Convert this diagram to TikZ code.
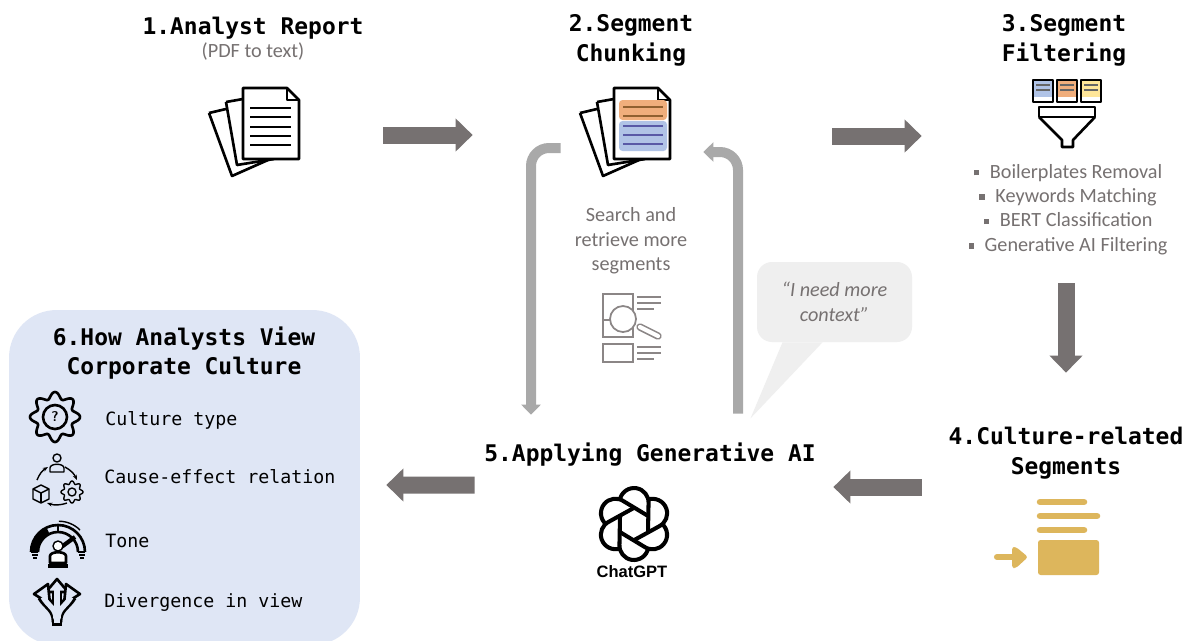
\documentclass[tikz,border=0pt]{standalone}
\usepackage{fontspec}
\setmainfont{Carlito}
\setmonofont{DejaVu Sans Mono}
\newfontfamily\logofont{Liberation Sans}
\usetikzlibrary{arrows.meta,calc}

\definecolor{arrowgray}{HTML}{767171}
\definecolor{loopgray}{HTML}{A9A9A9}
\definecolor{textgray}{HTML}{767171}
\definecolor{bubblegray}{HTML}{EFEFEF}
\definecolor{panelblue}{HTML}{DFE6F5}
\definecolor{chunkorange}{HTML}{F0AE7C}
\definecolor{chunkblue}{HTML}{B0C3E6}
\definecolor{cardyellow}{HTML}{FFE699}
\definecolor{segmentgold}{HTML}{DDB65C}

\newcommand{\bulletmark}{\rule[1.6pt]{3.2pt}{3.2pt}\hspace{6pt}}

\tikzset{
    iconbox/.style={minimum size=1.8cm, inner sep=0pt},
    steptitle/.style={align=center, inner sep=0pt, font=\ttfamily\bfseries\fontsize{13.05}{17}\selectfont},
    graytext/.style={align=center, inner sep=0pt, text=textgray, font=\fontsize{11.5}{13.9}\selectfont},
    itemtext/.style={anchor=west, inner sep=0pt, font=\ttfamily\fontsize{10.4}{13}\selectfont},
    bigarrow/.style={draw=arrowgray, line width=0.34cm, -{Triangle[width=0.64cm,length=0.34cm]}},
    looparrow/.style={draw=loopgray, line width=0.2cm, rounded corners=0.36cm, -{Triangle[width=0.38cm,length=0.2cm]}},
    iconline/.style={line width=1.5pt, line join=round},
    thinline/.style={line width=0.8pt, line join=round},
    pagestack/.pic={
        \draw[iconline] (-29,-28) -- (-12,-31);
        \draw[iconline] (-29,-28) -- (-18,35) -- (19,29);
        \draw[iconline] (-46,-17) -- (-29,-21);
        \draw[iconline] (-46,-17) -- (-23,46) -- (13,30);
        \filldraw[iconline, fill=white] (-12,-42) -- (32,-42) -- (44,-30) -- (44,29) -- (-12,29) -- cycle;
        \draw[iconline] (32,-42) -- (32,-30) -- (44,-30);
    },
    sizegear/.pic={
        \draw[pic actions] plot[domain=0:360, samples=145, smooth] (\x:{#1*(0.87+0.13*cos(8*\x))});
    },
}

\begin{document}
\begin{tikzpicture}[x=0.02cm, y=-0.02cm]
    \clip (0,0) rectangle (1195,640);
    \fill[white] (0,0) rectangle (1195,640);

    % icon anchors
    \node[iconbox] (report) at (255,130) {};
    \node[iconbox] (chunks) at (626,130) {};
    \node[iconbox] (filter) at (1066,113) {};
    \node[iconbox] (segments) at (1066,538) {};
    \node[iconbox] (genai) at (632,523) {};
    \node[fill=panelblue, rounded corners=0.95cm, minimum width=7.02cm, minimum height=6.7cm, inner sep=0pt] (panel) at (184.5,477.5) {};

    % titles
    \node[steptitle] (title1) at (253,28) {1.Analyst Report};
    \node[graytext] (pdftext) at (253,52) {(PDF to text)};
    \node[steptitle] (title2) at (631,40) {2.Segment\\Chunking};
    \node[steptitle] (title3) at (1064,40) {3.Segment\\Filtering};
    \node[steptitle] (title4) at (1066,453) {4.Culture-related\\Segments};
    \node[steptitle] (title5) at (650,455) {5.Applying Generative AI};
    \node[steptitle] (title6) at (184,353) {6.How Analysts View\\Corporate Culture};

    % report and chunks
    \pic at (report) {pagestack};
    \pic at (chunks) {pagestack};
    \fill[chunkorange, rounded corners=2pt] (619,100) rectangle (667,120);
    \fill[chunkblue, rounded corners=2pt] (619,121) rectangle (667,151);
    \draw[line width=1pt, brown!75!black] (623,107) -- (663,107);
    \draw[line width=1pt, brown!75!black] (623,116) -- (663,116);
    \foreach \y in {126,135,144}
        \draw[line width=1pt, blue!30!gray] (623,\y) -- (663,\y);
    \foreach \y in {108,117,127,136,145}
        \draw[iconline] (250,\y) -- (291,\y);

    % filter
    \fill[chunkblue] (1033,80) rectangle (1053,97);
    \fill[chunkorange] (1057,80) rectangle (1077,97);
    \fill[cardyellow] (1081,80) rectangle (1101,97);
    \foreach \x in {1033,1057,1081}{
        \draw[iconline] (\x,80) rectangle ++(20,22);
        \draw[line width=0.7pt, black!60] (\x+3,85) -- (\x+17,85);
        \draw[line width=0.7pt, black!60] (\x+3,90) -- (\x+17,90);
    }
    \draw[iconline] (1039,107) rectangle (1095,117);
    \draw[iconline] (1039,117) -- (1062,140) -- (1062,147) -- (1073,147) -- (1073,140) -- (1095,117);
    \node[graytext] (filterlist) at (1068,209.5) {\bulletmark Boilerplates Removal\\\bulletmark Keywords Matching\\\bulletmark BERT Classification\\\bulletmark Generative AI Filtering};

    % segments
    \foreach \y/\e in {502/1086,516/1099,530/1086}
        \draw[segmentgold, line width=3.7pt, line cap=round] (1040,\y) -- (\e-2,\y);
    \fill[segmentgold, rounded corners=1.5pt] (1038,540) rectangle (1099,575);
    \draw[segmentgold, line width=3.5pt, line cap=round] (997,557) -- (1014,557);
    \fill[segmentgold, rounded corners=1.5pt] (1012,547) -- (1016,547) -- (1028,557) -- (1016,568) -- (1012,568) -- cycle;

    % chatgpt logo
    \foreach \a in {0,60,...,300}
        \draw[line width=2.3pt, rotate around={\a:(634,524)}]
            (619.8,500) arc[start angle=190, end angle=364, radius=14.5] -- (648,532);
    \node[inner sep=0pt, font=\logofont\bfseries\fontsize{9.4}{11}\selectfont] (chatgpt) at (632,572) {ChatGPT};

    % search and retrieve
    \node[graytext] (searchtext) at (631,241) {Search and\\retrieve more\\segments};
    \begin{scope}[draw=textgray!85, line width=1pt]
        \draw (603,294) rectangle (633,320);
        \draw (603,320) rectangle (633,337);
        \draw (603,344) rectangle (633,362);
        \draw (637,297) -- (661,297);
        \draw (637,303) -- (661,303);
        \draw (637,309) -- (654,309);
        \draw (637,347) -- (661,347);
        \draw (637,353) -- (661,353);
        \draw (637,359) -- (654,359);
        \filldraw[fill=white] (623,319) circle (13);
        \draw[line width=4.2pt, line cap=round] (640,327) -- (658,336);
        \draw[line width=2.4pt, white, line cap=round] (640,327) -- (658,336);
    \end{scope}

    % bubble
    \node[fill=bubblegray, rounded corners=0.3cm, minimum width=3.1cm, minimum height=1.6cm, inner sep=0pt,
        text=textgray, align=center, font=\itshape\fontsize{11.5}{13.9}\selectfont] (need) at (834.5,302) {“I need more\\context”};
    \fill[bubblegray] ($(need.south)+(-52,0)$) -- ($(need.south)+(-84,76)$) -- ($(need.south)+(-12,0)$) -- cycle;

    % arrows
    \draw[bigarrow] ($(report.east)+(83,5)$) -- ($(chunks.west)+(-108,5)$);
    \draw[bigarrow] ($(chunks.east)+(161,6)$) -- ($(filter.west)+(-99,23)$);
    \draw[bigarrow] ($(filter.south)+(0,125)$) -- ($(segments.north)+(0,-120)$);
    \draw[bigarrow] ($(segments.west)+(-99,-51)$) -- ($(genai.east)+(156,-36)$);
    \draw[bigarrow] ($(genai.west)+(-112,-38)$) -- ($(panel.east)+(26,7.5)$);
    \draw[looparrow] ($(chunks.west)+(-20,18)$) -| ($(genai.north)+(-101,-63)$);
    \draw[looparrow] ($(genai.north)+(106,-64)$) |- ($(chunks.east)+(32,22)$);

    % panel items
    \node[itemtext] (item1) at (105,420) {Culture type};
    \node[itemtext] (item2) at (104,477) {Cause-effect relation};
    \node[itemtext] (item3) at (105,541) {Tone};
    \node[itemtext] (item4) at (104,603) {Divergence in view};

    % culture type icon
    \pic[iconline] at (55,417) {sizegear=25};
    \draw[iconline] (55,417) circle (12);
    \node[inner sep=0pt, font=\sffamily\bfseries\fontsize{8}{8}\selectfont] (qmark) at (55,417) {?};

    % cause effect icon
    \draw[thinline] (57,458) circle (4);
    \draw[thinline] (50,472) -- (50,468) .. controls (50,463) and (64,463) .. (64,468) -- (64,472) -- cycle;
    \draw[thinline] (41,485) -- (49,489) -- (49,499) -- (41,503) -- (33,499) -- (33,489) -- cycle;
    \draw[thinline] (33,489) -- (41,493) -- (49,489);
    \draw[thinline] (41,493) -- (41,503);
    \pic[thinline] at (72,492) {sizegear=11};
    \draw[thinline] (72,492) circle (4);
    \draw[thinline, -{Stealth[length=3pt]}] (37,480) to[bend left=18] (48,467);
    \draw[thinline, -{Stealth[length=3pt]}] (65,467) to[bend left=18] (77,480);
    \draw[thinline, {Stealth[length=3pt]}-] (47,503) to[bend right=18] (67,503);

    % tone icon
    \draw[iconline] (31,552) arc[start angle=180, end angle=360, radius=27];
    \draw[iconline] (38,552) arc[start angle=180, end angle=360, radius=20];
    \fill (31,552) arc[start angle=180, end angle=245, radius=27]
        -- (49.5,533.9) arc[start angle=245, end angle=180, radius=20] -- cycle;
    \draw[thinline] (58,525) -- (58,532);
    \draw[thinline] (31,552) -- (38,552);
    \draw[thinline] (78,552) -- (85,552);
    \draw[thinline] (80,530) arc[start angle=-45, end angle=-90, radius=30];
    \draw[line width=2.4pt] (60,548) -- (75,537);
    \draw[thinline] (32,555) -- (38,555) (33,558) -- (37,558);
    \draw[thinline] (79,555) -- (85,555) (80,558) -- (84,558);
    \filldraw[thinline, fill=white] (58,546) circle (5);
    \draw[iconline, fill=white] (50,563) -- (50,556) .. controls (50,551) and (66,551) .. (66,556) -- (66,563) -- cycle;
    \draw[line width=2.4pt] (48,566) -- (68,566);

    % divergence icon
    \draw[line width=6pt] (57,626) -- (57,590);
    \draw[line width=6pt] (57,622) .. controls (57,608) and (48,606) .. (42,596);
    \draw[line width=6pt] (57,622) .. controls (57,608) and (66,606) .. (72,596);
    \filldraw[iconline, fill=panelblue] (57,579) -- (68,592) -- (46,592) -- cycle;
    \filldraw[iconline, fill=panelblue] (34,594) -- (48,584) -- (50,604) -- cycle;
    \filldraw[iconline, fill=panelblue] (80,594) -- (66,584) -- (64,604) -- cycle;
    \draw[line width=3pt, panelblue] (57,623) -- (57,590);
    \draw[line width=3pt, panelblue] (56,619) .. controls (56,608) and (48,606) .. (43,597);
    \draw[line width=3pt, panelblue] (58,619) .. controls (58,608) and (66,606) .. (71,597);
\end{tikzpicture}
\end{document}
